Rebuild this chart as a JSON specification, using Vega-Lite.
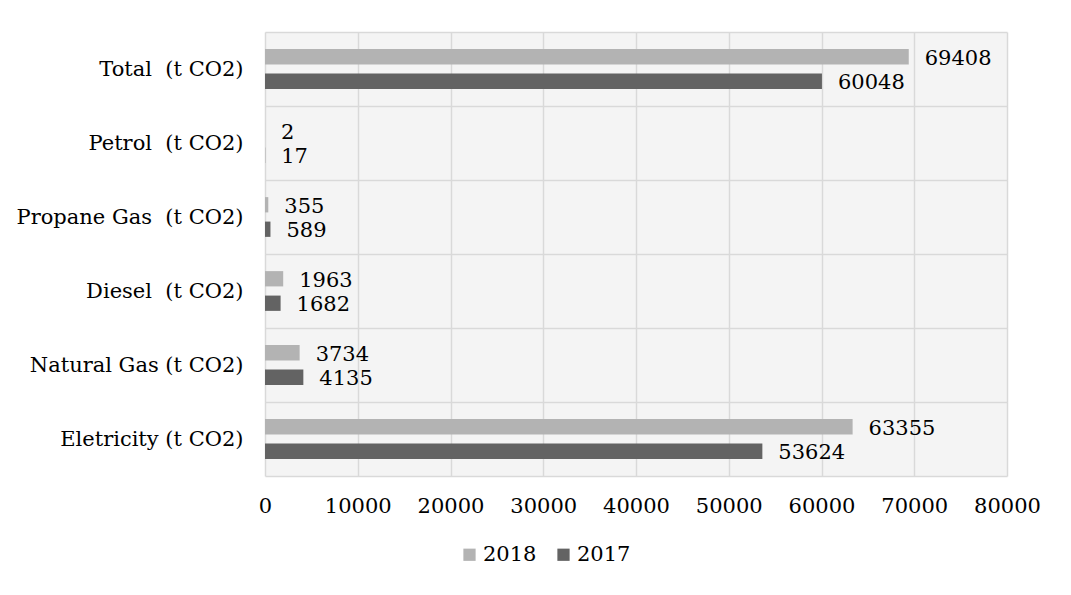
{
  "$schema": "https://vega.github.io/schema/vega-lite/v6.json",
  "width": 742,
  "height": 444,
  "autosize": {"type": "none"},
  "padding": {"left": 265, "top": 32, "right": 64, "bottom": 119},
  "background": "white",
  "config": {
    "font": "DejaVu Serif",
    "view": {"fill": "#f4f4f4", "stroke": null},
    "text": {"font": "DejaVu Serif"}
  },
  "data": {
    "values": [
      {"category": "Total \u00a0(t CO2)", "year": "2018", "value": 69408},
      {"category": "Total \u00a0(t CO2)", "year": "2017", "value": 60048},
      {"category": "Petrol \u00a0(t CO2)", "year": "2018", "value": 2},
      {"category": "Petrol \u00a0(t CO2)", "year": "2017", "value": 17},
      {"category": "Propane Gas \u00a0(t CO2)", "year": "2018", "value": 355},
      {"category": "Propane Gas \u00a0(t CO2)", "year": "2017", "value": 589},
      {"category": "Diesel \u00a0(t CO2)", "year": "2018", "value": 1963},
      {"category": "Diesel \u00a0(t CO2)", "year": "2017", "value": 1682},
      {"category": "Natural Gas (t CO2)", "year": "2018", "value": 3734},
      {"category": "Natural Gas (t CO2)", "year": "2017", "value": 4135},
      {"category": "Eletricity (t CO2)", "year": "2018", "value": 63355},
      {"category": "Eletricity (t CO2)", "year": "2017", "value": 53624}
    ]
  },
  "encoding": {
    "y": {
      "field": "category",
      "type": "nominal",
      "sort": ["Total \u00a0(t CO2)", "Petrol \u00a0(t CO2)", "Propane Gas \u00a0(t CO2)", "Diesel \u00a0(t CO2)", "Natural Gas (t CO2)", "Eletricity (t CO2)"],
      "scale": {"paddingInner": 0, "paddingOuter": 0},
      "axis": {
        "title": null,
        "labelFontSize": 21,
        "labelColor": "#000",
        "labelPadding": 22,
        "labelLimit": 400,
        "labelFont": "DejaVu Serif",
        "ticks": false,
        "domain": false,
        "grid": true,
        "tickBand": "extent",
        "gridColor": "#d9d9d9",
        "gridWidth": 1.5
      }
    },
    "yOffset": {
      "field": "year",
      "type": "nominal",
      "sort": ["2018", "2017"],
      "scale": {"paddingInner": 0.375, "paddingOuter": 0.7}
    },
    "x": {
      "field": "value",
      "type": "quantitative",
      "scale": {"domain": [0, 80000], "nice": false},
      "axis": {
        "title": null,
        "values": [0, 10000, 20000, 30000, 40000, 50000, 60000, 70000, 80000],
        "format": "d",
        "labelFontSize": 21,
        "labelColor": "#000",
        "labelFont": "DejaVu Serif",
        "labelPadding": 19,
        "labelOverlap": false,
        "labelFlush": false,
        "ticks": false,
        "domain": false,
        "grid": true,
        "gridColor": "#d9d9d9",
        "gridWidth": 1.5
      }
    }
  },
  "layer": [
    {
      "mark": {"type": "bar"},
      "encoding": {
        "color": {
          "field": "year",
          "type": "nominal",
          "scale": {"domain": ["2018", "2017"], "range": ["#b3b3b3", "#636363"]},
          "legend": {
            "title": null,
            "orient": "none",
            "legendX": 194,
            "legendY": 512,
            "direction": "horizontal",
            "symbolType": "square",
            "symbolSize": 150,
            "symbolStrokeWidth": 0,
            "labelFontSize": 21,
            "labelFont": "DejaVu Serif",
            "labelColor": "#000",
            "labelOffset": 3,
            "columnPadding": 16
          }
        }
      }
    },
    {
      "mark": {"type": "text", "align": "left", "baseline": "middle", "dx": 16, "dy": 2, "fontSize": 21, "color": "#000"},
      "encoding": {
        "text": {"field": "value", "type": "quantitative", "format": "d"}
      }
    }
  ]
}
